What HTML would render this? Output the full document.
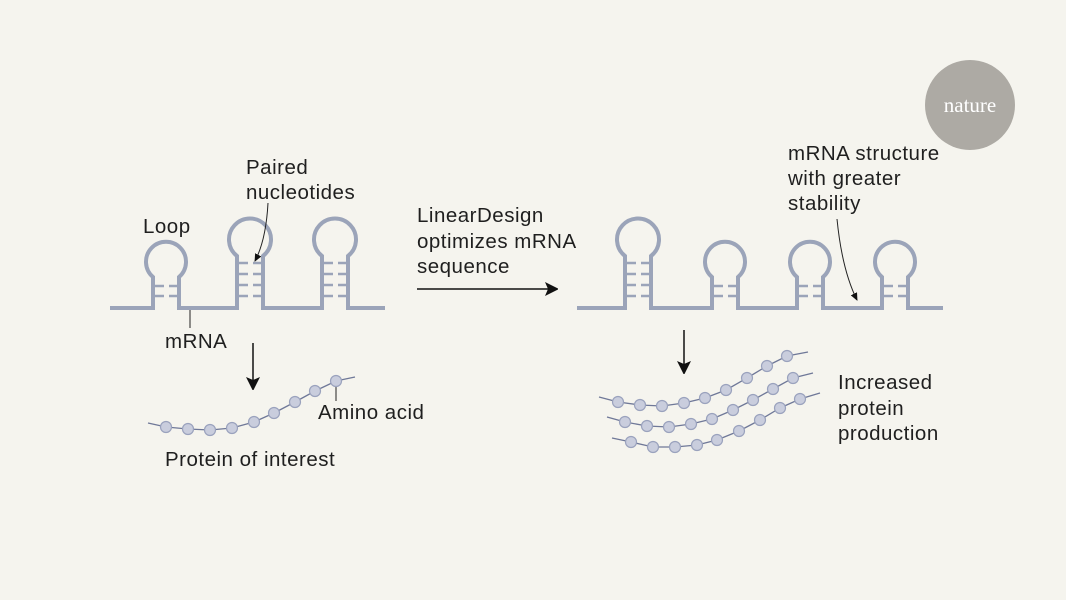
<!DOCTYPE html>
<html><head><meta charset="utf-8"><style>
html,body{margin:0;padding:0;background:#f5f4ee;}
svg{display:block}
text{font-family:"Liberation Sans",sans-serif;font-size:20.5px;letter-spacing:0.5px;fill:#1f1f1f;}
</style></head><body>
<svg width="1066" height="600" viewBox="0 0 1066 600" xmlns="http://www.w3.org/2000/svg">
<rect width="1066" height="600" fill="#f5f4ee"/>
<defs>
<marker id="ah" markerWidth="12" markerHeight="14" refX="13" refY="7" orient="auto" markerUnits="userSpaceOnUse"><path d="M0,0 L14,7 L0,14 L3,7 Z" fill="#111"/></marker>
<marker id="ahs" markerWidth="8" markerHeight="7" refX="7" refY="3.5" orient="auto" markerUnits="userSpaceOnUse"><path d="M0,0 L8,3.5 L0,7 Z" fill="#111"/></marker>
</defs>
<circle cx="970" cy="105" r="45" fill="#adaaa4"/>
<text x="970" y="112" text-anchor="middle" style="font-family:'Liberation Serif',serif;font-size:21px;letter-spacing:0;fill:#fff">nature</text>

<g fill="none" stroke="#9ba4b9" stroke-width="4" stroke-linejoin="miter">
<path d="M110,308 H153 V277 A20 20 0 1 1 179 277 V308 H237 V256 A21 21 0 1 1 263 256 V308 H322 V256 A21 21 0 1 1 348 256 V308 H385"/>
<path d="M577,308 H625 V256 A21 21 0 1 1 651 256 V308 H712 V277 A20 20 0 1 1 738 277 V308 H797 V277 A20 20 0 1 1 823 277 V308 H882 V277 A20 20 0 1 1 908 277 V308 H943"/>
</g>
<g stroke="#9ba4b9" stroke-width="2.5">
<path d="M155,286h9M169,286h9M155,296h9M169,296h9"/>
<path d="M714,286h9M728,286h9M714,296h9M728,296h9"/>
<path d="M799,286h9M813,286h9M799,296h9M813,296h9"/>
<path d="M884,286h9M898,286h9M884,296h9M898,296h9"/>
<path d="M239,263h9M253,263h9M239,274h9M253,274h9M239,285h9M253,285h9M239,296h9M253,296h9"/>
<path d="M324,263h9M338,263h9M324,274h9M338,274h9M324,285h9M338,285h9M324,296h9M338,296h9"/>
<path d="M627,263h9M641,263h9M627,274h9M641,274h9M627,285h9M641,285h9M627,296h9M641,296h9"/>
</g>

<path d="M268,203 Q266,240 255,261" fill="none" stroke="#222" stroke-width="1" marker-end="url(#ahs)"/>
<path d="M837,219 Q842,270 857,300" fill="none" stroke="#222" stroke-width="1" marker-end="url(#ahs)"/>
<line x1="190" y1="310" x2="190" y2="328" stroke="#222" stroke-width="1"/>
<line x1="336" y1="383" x2="336" y2="401" stroke="#222" stroke-width="1"/>

<line x1="417" y1="289" x2="558" y2="289" stroke="#111" stroke-width="1.5" marker-end="url(#ah)"/>
<line x1="253" y1="343" x2="253" y2="390" stroke="#111" stroke-width="1.5" marker-end="url(#ah)"/>
<line x1="684" y1="330" x2="684" y2="374" stroke="#111" stroke-width="1.5" marker-end="url(#ah)"/>

<g stroke="#6f7898" stroke-width="1.3" fill="none">
<polyline points="148,423 166,427 188,429 210,430 232,428 254,422 274,413 295,402 315,391 336,381 355,377"/>
<polyline points="599,397 618,402 640,405 662,406 684,403 705,398 726,390 747,378 767,366 787,356 808,352"/>
<polyline points="607,417 625,422 647,426 669,427 691,424 712,419 733,410 753,400 773,389 793,378 813,373"/>
<polyline points="612,438 631,442 653,447 675,447 697,445 717,440 739,431 760,420 780,408 800,399 820,393"/>
</g>
<g fill="#c9cddd" stroke="#9aa2bd" stroke-width="1.2">
<circle cx="166" cy="427" r="5.5"/><circle cx="188" cy="429" r="5.5"/><circle cx="210" cy="430" r="5.5"/><circle cx="232" cy="428" r="5.5"/><circle cx="254" cy="422" r="5.5"/><circle cx="274" cy="413" r="5.5"/><circle cx="295" cy="402" r="5.5"/><circle cx="315" cy="391" r="5.5"/><circle cx="336" cy="381" r="5.5"/>
<circle cx="618" cy="402" r="5.5"/><circle cx="640" cy="405" r="5.5"/><circle cx="662" cy="406" r="5.5"/><circle cx="684" cy="403" r="5.5"/><circle cx="705" cy="398" r="5.5"/><circle cx="726" cy="390" r="5.5"/><circle cx="747" cy="378" r="5.5"/><circle cx="767" cy="366" r="5.5"/><circle cx="787" cy="356" r="5.5"/>
<circle cx="625" cy="422" r="5.5"/><circle cx="647" cy="426" r="5.5"/><circle cx="669" cy="427" r="5.5"/><circle cx="691" cy="424" r="5.5"/><circle cx="712" cy="419" r="5.5"/><circle cx="733" cy="410" r="5.5"/><circle cx="753" cy="400" r="5.5"/><circle cx="773" cy="389" r="5.5"/><circle cx="793" cy="378" r="5.5"/>
<circle cx="631" cy="442" r="5.5"/><circle cx="653" cy="447" r="5.5"/><circle cx="675" cy="447" r="5.5"/><circle cx="697" cy="445" r="5.5"/><circle cx="717" cy="440" r="5.5"/><circle cx="739" cy="431" r="5.5"/><circle cx="760" cy="420" r="5.5"/><circle cx="780" cy="408" r="5.5"/><circle cx="800" cy="399" r="5.5"/>
</g>

<text x="246" y="174">Paired</text>
<text x="246" y="199">nucleotides</text>
<text x="143" y="233">Loop</text>
<text x="165" y="348">mRNA</text>
<text x="318" y="419">Amino acid</text>
<text x="165" y="466">Protein of interest</text>
<text x="417" y="222">LinearDesign</text>
<text x="417" y="248">optimizes mRNA</text>
<text x="417" y="273">sequence</text>
<text x="788" y="160">mRNA structure</text>
<text x="788" y="185">with greater</text>
<text x="788" y="210">stability</text>
<text x="838" y="389">Increased</text>
<text x="838" y="415">protein</text>
<text x="838" y="440">production</text>
</svg>
</body></html>
